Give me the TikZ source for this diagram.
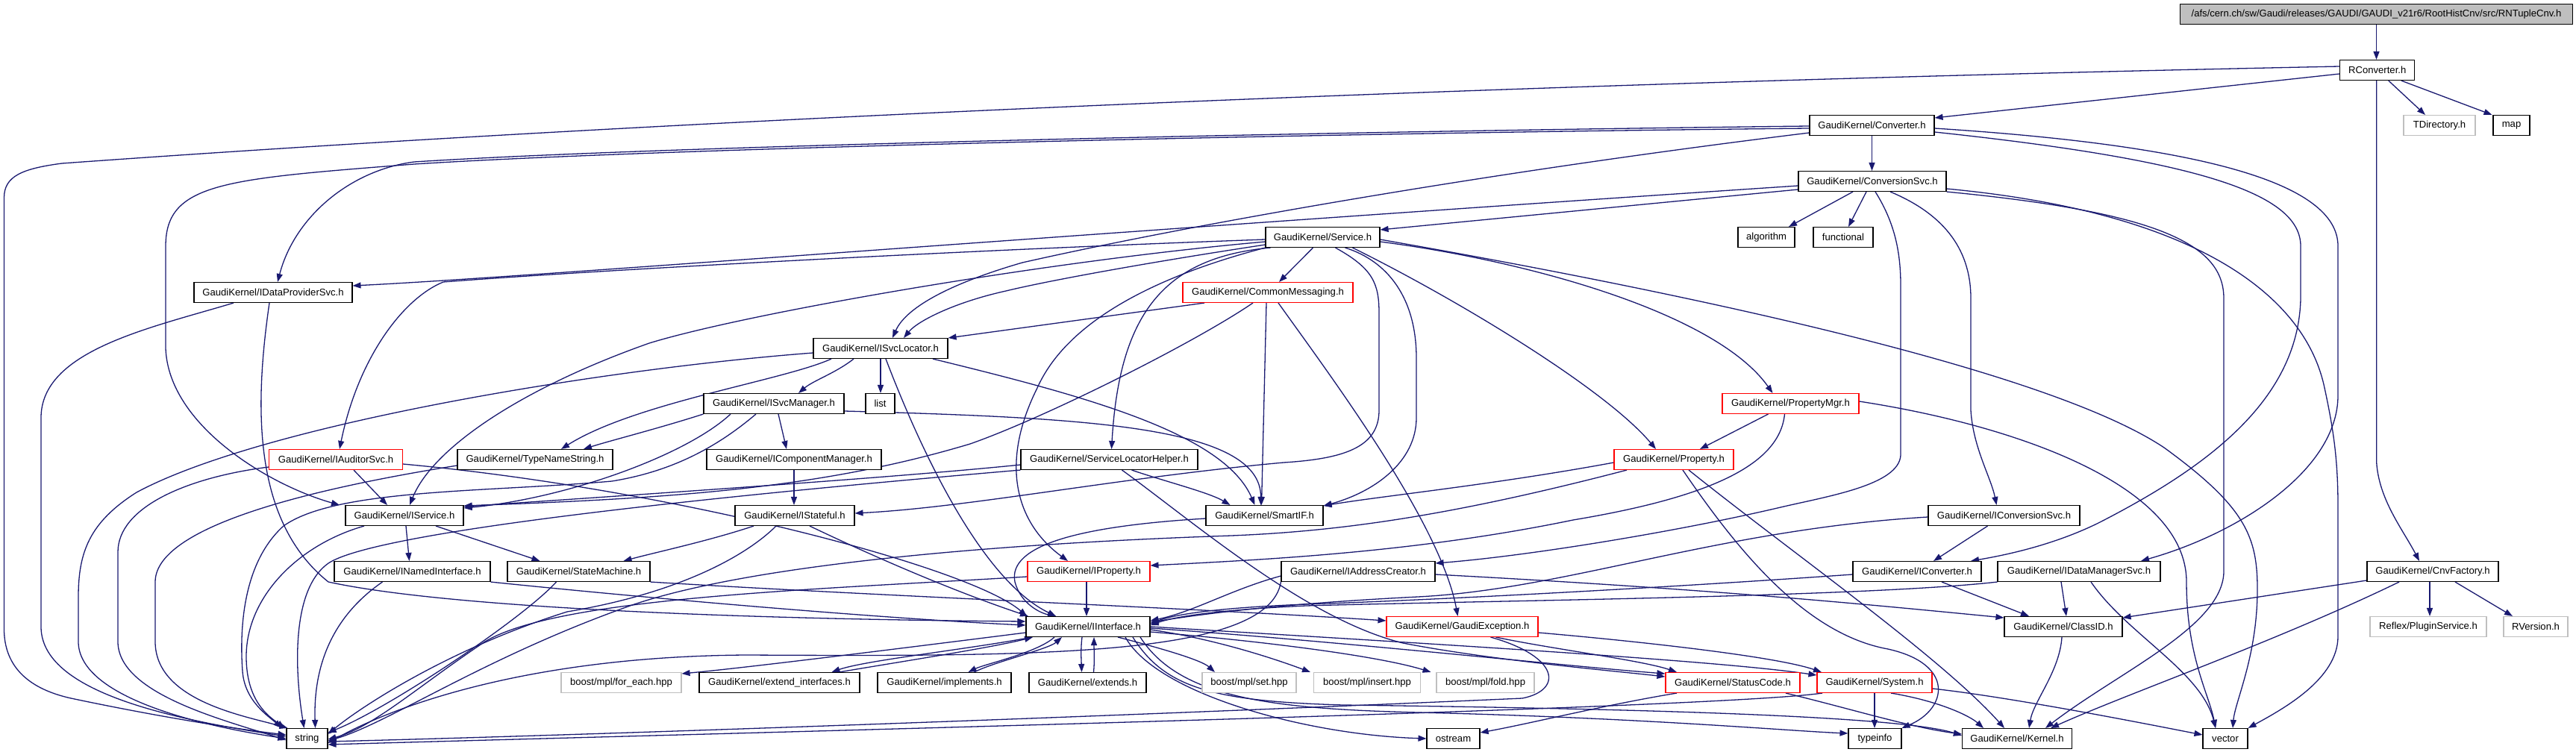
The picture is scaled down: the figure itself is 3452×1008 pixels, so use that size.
\documentclass[tikz,border=0pt]{standalone}
\usepackage{fontspec}
\setmainfont{Liberation Sans}
\usetikzlibrary{arrows.meta,backgrounds}
\definecolor{edgecol}{HTML}{191970}
\definecolor{grayb}{HTML}{BFBFBF}
\begin{document}
\begin{tikzpicture}[x=1pt,y=-1pt,
 nd/.style={draw=black,fill=white,line width=1.1pt,minimum height=27pt,inner xsep=3pt,inner ysep=0pt,font=\fontsize{13.1}{15}\selectfont},
 nr/.style={nd,draw=red},
 ng/.style={nd,draw=grayb},
 edg/.style={draw=edgecol,line width=1.3pt,-{Triangle[length=11pt,width=8pt]}}]
\useasboundingbox (0,0) rectangle (3452,1008);
% nodes
\node[nd,fill=grayb,minimum width=526pt] (rnt) at (3184.5,19) {/afs/cern.ch/sw/Gaudi/releases/GAUDI/GAUDI\_v21r6/RootHistCnv/src/RNTupleCnv.h};
\node[nd,minimum width=100pt] (rconv) at (3185.7,94) {RConverter.h};
\node[nd,minimum width=167pt] (conv) at (2508.5,168) {GaudiKernel/Converter.h};
\node[ng,minimum width=96pt] (tdir) at (3269,168) {TDirectory.h};
\node[nd,minimum width=49pt] (nmap) at (3365.5,168) {map};
\node[nd,minimum width=198pt] (convsvc) at (2509,243) {GaudiKernel/ConversionSvc.h};
\node[nd,minimum width=153pt] (service) at (1772.5,318) {GaudiKernel/Service.h};
\node[nd,minimum width=76pt] (algo) at (2367,318) {algorithm};
\node[nd,minimum width=80pt] (func) at (2470,318) {functional};
\node[nd,minimum width=212pt] (idps) at (366,392) {GaudiKernel/IDataProviderSvc.h};
\node[nr,minimum width=228pt] (cm) at (1699,392) {GaudiKernel/CommonMessaging.h};
\node[nd,minimum width=180pt] (isl) at (1180,467) {GaudiKernel/ISvcLocator.h};
\node[nr,minimum width=183pt] (pmgr) at (2399.5,541) {GaudiKernel/PropertyMgr.h};
\node[nd,minimum width=188pt] (ism) at (1037,541) {GaudiKernel/ISvcManager.h};
\node[nd,minimum width=39pt] (nlist) at (1179.5,541) {list};
\node[nr,minimum width=179pt] (ias) at (450,616) {GaudiKernel/IAuditorSvc.h};
\node[nd,minimum width=208pt] (tns) at (717,616) {GaudiKernel/TypeNameString.h};
\node[nd,minimum width=234pt] (icm) at (1064,616) {GaudiKernel/IComponentManager.h};
\node[nd,minimum width=237pt] (slh) at (1486.5,616) {GaudiKernel/ServiceLocatorHelper.h};
\node[nr,minimum width=160pt] (prop) at (2243,616) {GaudiKernel/Property.h};
\node[nd,minimum width=158pt] (isvc) at (542,691) {GaudiKernel/IService.h};
\node[nd,minimum width=160pt] (istf) at (1065,691) {GaudiKernel/IStateful.h};
\node[nd,minimum width=157pt] (sif) at (1694.5,691) {GaudiKernel/SmartIF.h};
\node[nd,minimum width=203pt] (icsvc) at (2685.5,691) {GaudiKernel/IConversionSvc.h};
\node[nd,minimum width=209pt] (ini) at (552.5,766) {GaudiKernel/INamedInterface.h};
\node[nd,minimum width=191pt] (sm) at (775.5,766) {GaudiKernel/StateMachine.h};
\node[nr,minimum width=164pt] (iprop) at (1459,766) {GaudiKernel/IProperty.h};
\node[nd,minimum width=206pt] (iac) at (1820,766) {GaudiKernel/IAddressCreator.h};
\node[nd,minimum width=172pt] (icnv) at (2569,766) {GaudiKernel/IConverter.h};
\node[nd,minimum width=218pt] (idms) at (2786,766) {GaudiKernel/IDataManagerSvc.h};
\node[nd,minimum width=176pt] (cnvf) at (3260,766) {GaudiKernel/CnvFactory.h};
\node[nd,minimum width=166pt] (ii) at (1458,840) {GaudiKernel/IInterface.h};
\node[nr,minimum width=203pt] (gex) at (1959.5,840) {GaudiKernel/GaudiException.h};
\node[nd,minimum width=158pt] (cid) at (2765,840) {GaudiKernel/ClassID.h};
\node[ng,minimum width=156pt] (plug) at (3254,840) {Reflex/PluginService.h};
\node[ng,minimum width=86pt] (rver) at (3398,840) {RVersion.h};
\node[ng,minimum width=161pt] (fe) at (832.5,915) {boost/mpl/for\_each.hpp};
\node[nd,minimum width=215pt] (ei) at (1044.5,915) {GaudiKernel/extend\_interfaces.h};
\node[nd,minimum width=179pt] (impl) at (1265.5,915) {GaudiKernel/implements.h};
\node[nd,minimum width=157pt] (ext) at (1457.5,915) {GaudiKernel/extends.h};
\node[ng,minimum width=126pt] (nset) at (1674,915) {boost/mpl/set.hpp};
\node[ng,minimum width=143pt] (ins) at (1832,915) {boost/mpl/insert.hpp};
\node[ng,minimum width=131pt] (fold) at (1990.5,915) {boost/mpl/fold.hpp};
\node[nr,minimum width=180pt] (sc) at (2322,915) {GaudiKernel/StatusCode.h};
\node[nr,minimum width=154pt] (sys) at (2512,915) {GaudiKernel/System.h};
\node[nd,minimum width=55pt] (nstr) at (411.5,990) {string};
\node[nd,minimum width=71pt] (ostr) at (1947.5,990) {ostream};
\node[nd,minimum width=71pt] (tinfo) at (2512.5,990) {typeinfo};
\node[nd,minimum width=147pt] (kern) at (2703,990) {GaudiKernel/Kernel.h};
\node[nd,minimum width=60pt] (nvec) at (2982,990) {vector};
\begin{scope}[on background layer]
% RNTupleCnv / RConverter
\draw[edg] (rnt.south) -- (rnt.south |- rconv.north);
\draw[edg] ([yshift=-5pt]rconv.west) -- ([yshift=10pt]conv.east);
\draw[edg] ([xshift=15pt]rconv.south) -- ([xshift=-19pt]tdir.north);
\draw[edg] ([xshift=32pt]rconv.south) -- ([xshift=-26pt]nmap.north);
\draw[edg] ([xshift=-1pt]rconv.south) -- (3184.7,620) .. controls (3188,670) and (3220,710) .. ([xshift=-18pt]cnvf.north);
\draw[edg] ([yshift=5pt]rconv.west) .. controls (2000,112) and (900,160) .. (83,219) .. controls (30,226) and (5.5,236) .. (5.5,265) -- (5.5,843) .. controls (5.5,895) and (40,925) .. (100,937) .. controls (200,958) and (300,975) .. ([yshift=5pt]nstr.west);
% Converter
\draw[edg] (conv.south) -- (conv.south |- convsvc.north);
\draw[edg] ([yshift=-1pt]conv.west) .. controls (1800,176) and (900,195) .. (555,217) .. controls (470,228) and (395,290) .. ([xshift=6pt]idps.north);
\draw[edg] ([yshift=-4pt]conv.west) .. controls (1800,178) and (900,198) .. (555,220) .. controls (300,240) and (222,245) .. (222,330) -- (222,467) .. controls (226,570) and (360,650) .. ([xshift=-87pt]isvc.north);
\draw[edg] ([yshift=-10pt]conv.west) .. controls (2000,230) and (1600,300) .. (1370,352) .. controls (1280,378) and (1215,410) .. ([xshift=16pt]isl.north);
\draw[edg] ([yshift=-9pt]conv.east) .. controls (2950,215) and (3083,260) .. (3083,330) -- (3083,400) .. controls (3080,540) and (2950,630) .. (2814,700) .. controls (2760,727) and (2700,742) .. ([xshift=72pt]icnv.north);
\draw[edg] ([yshift=-4pt]conv.east) .. controls (2950,195) and (3133,245) .. (3133,330) -- (3133,530) .. controls (3133,630) and (3000,715) .. ([xshift=83pt]idms.north);
% ConversionSvc
\draw[edg] ([yshift=-11pt]convsvc.west) -- ([yshift=10pt]service.east);
\draw[edg] ([yshift=-6pt]convsvc.west) .. controls (1400,316) and (700,372) .. ([yshift=9pt]idps.east);
\draw[edg] ([xshift=-26pt]convsvc.south) -- ([xshift=30pt]algo.north);
\draw[edg] ([xshift=-8pt]convsvc.south) -- ([xshift=7pt]func.north);
\draw[edg] ([xshift=4pt]convsvc.south) .. controls (2540,300) and (2547,340) .. (2547,383) -- (2547,610) .. controls (2545,650) and (2450,665) .. (2386,680) .. controls (2250,712) and (2050,745) .. ([yshift=11pt]iac.east);
\draw[edg] ([xshift=24pt]convsvc.south) .. controls (2600,285) and (2641,330) .. (2641,400) -- (2641,550) .. controls (2644,600) and (2668,640) .. ([xshift=-10pt]icsvc.north);
\draw[edg] (convsvc.south east) .. controls (2900,285) and (2980,330) .. (2980,400) -- (2980,767) .. controls (2978,840) and (2840,900) .. ([xshift=38pt]kern.north);
\draw[edg] ([yshift=-10pt]convsvc.east) .. controls (2950,285) and (3090,400) .. (3115,520) .. controls (3128,580) and (3133,620) .. (3133,680) -- (3133,853) .. controls (3133,910) and (3060,950) .. (nvec.north east);
% Service
\draw[edg] ([xshift=-13pt]service.south) -- ([xshift=15pt]cm.north);
\draw[edg] ([yshift=-10pt]service.west) .. controls (1550,350) and (1410,375) .. (1348,390) .. controls (1280,405) and (1230,430) .. ([xshift=31pt]isl.north);
\draw[edg] ([yshift=-3pt]service.west) .. controls (1300,335) and (800,362) .. (594,378) .. controls (540,400) and (480,480) .. ([xshift=5pt]ias.north);
\draw[edg] ([yshift=-6pt]service.west) .. controls (1400,350) and (1000,420) .. (870,460) .. controls (700,520) and (580,600) .. ([xshift=7pt]isvc.north);
\draw[edg] ([xshift=17pt]service.south) .. controls (1840,360) and (1848,380) .. (1848,420) -- (1848,550) .. controls (1848,600) and (1800,615) .. (1720,620) .. controls (1500,640) and (1300,680) .. ([yshift=3pt]istf.east);
\draw[edg] ([xshift=30pt]service.south) .. controls (1860,350) and (1898,400) .. (1898,480) -- (1898,560) .. controls (1898,620) and (1840,660) .. ([yshift=13pt]sif.east);
\draw[edg] ([xshift=40pt]service.south) .. controls (1950,400) and (2150,520) .. ([xshift=-24pt]prop.north);
\draw[edg] ([yshift=-6pt]service.east) .. controls (2050,350) and (2300,420) .. ([xshift=-24pt]pmgr.north);
\draw[edg] ([yshift=-3pt]service.east) .. controls (2300,400) and (2750,500) .. (2900,600) .. controls (3010,680) and (3025,720) .. (3025,790) .. controls (3025,880) and (2995,940) .. ([xshift=10pt]nvec.north);
\draw[edg] (service.south west) .. controls (1550,370) and (1430,430) .. (1390,520) .. controls (1340,620) and (1360,700) .. ([xshift=-28pt]iprop.north);
\draw[edg] ([xshift=-70pt]service.south) .. controls (1560,345) and (1500,420) .. ([xshift=3pt]slh.north);
% CommonMessaging
\draw[edg] ([xshift=-85pt]cm.south) -- ([yshift=14pt]isl.east);
\draw[edg] ([xshift=-20pt]cm.south) .. controls (1600,460) and (1400,560) .. (1300,595) .. controls (1100,655) and (900,668) .. ([yshift=13pt]isvc.east);
\draw[edg] ([xshift=-2pt]cm.south) -- ([xshift=-4pt]sif.north);
\draw[edg] ([xshift=14pt]cm.south) .. controls (1780,500) and (1930,700) .. ([xshift=-6pt]gex.north);
% IDataProviderSvc
\draw[edg] ([xshift=-53pt]idps.south) .. controls (200,440) and (55,470) .. (55,560) -- (55,840) .. controls (55,920) and (200,960) .. ([yshift=3pt]nstr.west);
\draw[edg] ([xshift=-5pt]idps.south) .. controls (340,550) and (340,700) .. (440,780) .. controls (600,815) and (1000,830) .. ([yshift=7pt]ii.west);
% ISvcLocator
\draw[edg] (isl.south) -- (isl.south |- nlist.north);
\draw[edg] ([xshift=7pt]isl.south) .. controls (1240,620) and (1320,780) .. ([xshift=-43pt]ii.north);
\draw[edg] ([xshift=70pt]isl.south) .. controls (1450,530) and (1640,580) .. ([xshift=-13pt]sif.north);
\draw[edg] ([xshift=-36pt]isl.south) .. controls (1120,500) and (1090,510) .. ([xshift=33pt]ism.north);
\draw[edg] ([xshift=-66pt]isl.south) .. controls (1050,510) and (850,540) .. ([xshift=35pt]tns.north);
\draw[edg] ([yshift=-6pt]isl.west) .. controls (800,495) and (350,570) .. (183,660) .. controls (120,700) and (105,740) .. (105,800) -- (105,860) .. controls (105,930) and (250,970) .. (nstr.west);
% PropertyMgr
\draw[edg] ([xshift=-30pt]pmgr.south) -- ([xshift=35pt]prop.north);
\draw[edg] ([xshift=-8pt]pmgr.south) .. controls (2385,620) and (2300,665) .. (2108,697) .. controls (1900,740) and (1700,750) .. ([yshift=8pt]iprop.east);
\draw[edg] ([yshift=3pt]pmgr.east) .. controls (2700,570) and (2930,650) .. (2930,780) .. controls (2930,880) and (2960,930) .. ([xshift=-13pt]nvec.north);
% ISvcManager
\draw[edg] (ism.south west) .. controls (880,575) and (820,590) .. ([xshift=65pt]tns.north);
\draw[edg] ([xshift=6pt]ism.south) -- ([xshift=-10pt]icm.north);
\draw[edg] ([yshift=-10pt]ism.east) .. controls (1450,560) and (1690,570) .. ([xshift=-5pt]sif.north);
\draw[edg] ([xshift=-58pt]ism.south) .. controls (920,610) and (760,668) .. ([yshift=10pt]isvc.east);
\draw[edg] ([xshift=-24pt]ism.south) .. controls (960,600) and (900,632) .. (820,645) .. controls (650,660) and (450,655) .. (380,705) .. controls (330,750) and (320,830) .. (325,900) .. controls (328,940) and (360,960) .. ([xshift=-34pt]nstr.north);
% IAuditorSvc
\draw[edg] ([xshift=24pt]ias.south) -- ([xshift=-23pt]isvc.north);
\draw[edg] ([yshift=-10pt]ias.west) .. controls (250,640) and (158,680) .. (158,740) -- (158,860) .. controls (158,930) and (300,965) .. ([yshift=-2pt]nstr.west);
\draw[edg] ([yshift=-6pt]ias.east) .. controls (900,655) and (1300,760) .. ([xshift=-82pt]ii.north);
% TypeNameString
\draw[edg] ([yshift=-8pt]tns.west) .. controls (450,650) and (208,700) .. (208,780) -- (208,860) .. controls (208,940) and (330,960) .. ([xshift=-26pt]nstr.north);
% IComponentManager
\draw[edg] (icm.south) -- (icm.south |- istf.north);
% ServiceLocatorHelper
\draw[edg] ([xshift=30pt]slh.south) .. controls (1560,645) and (1620,660) .. ([xshift=-46pt]sif.north);
\draw[edg] ([yshift=-7pt]slh.west) .. controls (1200,640) and (900,660) .. ([yshift=12pt]isvc.east);
\draw[edg] (slh.south west) .. controls (900,670) and (500,715) .. (440,755) .. controls (390,790) and (395,900) .. ([xshift=-4pt]nstr.north);
\draw[edg] ([xshift=17pt]slh.south) .. controls (1600,700) and (1750,830) .. (1880,862) .. controls (2000,885) and (2150,898) .. ([yshift=8pt]sc.west);
% Property
\draw[edg] ([yshift=-4pt]prop.west) .. controls (2000,650) and (1850,665) .. ([yshift=13pt]sif.east);
\draw[edg] ([xshift=-63pt]prop.south) .. controls (1950,690) and (1800,712) .. (1650,718) .. controls (1300,730) and (1000,760) .. (850,810) .. controls (650,880) and (520,970) .. ([yshift=-3pt]nstr.east);
\draw[edg] ([xshift=12pt]prop.south) .. controls (2330,740) and (2420,850) .. (2530,870) .. controls (2620,890) and (2610,950) .. (tinfo.north east);
\draw[edg] ([xshift=20pt]prop.south) .. controls (2400,740) and (2600,880) .. ([xshift=-17pt]kern.north);
% IService
\draw[edg] ([xshift=2pt]isvc.south) -- ([xshift=-4pt]ini.north);
\draw[edg] ([xshift=42pt]isvc.south) -- ([xshift=-52pt]sm.north);
\draw[edg] ([xshift=-54pt]isvc.south) .. controls (400,730) and (330,800) .. (330,880) .. controls (330,940) and (360,960) .. ([xshift=-30pt]nstr.north);
% IStateful
\draw[edg] ([xshift=-55pt]istf.south) .. controls (950,725) and (880,740) .. ([xshift=60pt]sm.north);
\draw[edg] ([xshift=-25pt]istf.south) .. controls (1000,745) and (910,795) .. (760,820) .. controls (600,870) and (480,950) .. ([yshift=6pt]nstr.east);
\draw[edg] ([xshift=20pt]istf.south) .. controls (1200,760) and (1300,800) .. ([xshift=-80pt]ii.north);
% SmartIF
\draw[edg] ([yshift=-4pt]sif.west) .. controls (1450,705) and (1350,730) .. (1360,780) .. controls (1368,810) and (1395,822) .. ([xshift=-43pt]ii.north);
% IConversionSvc
\draw[edg] ([xshift=-22pt]icsvc.south) -- ([xshift=22pt]icnv.north);
\draw[edg] ([yshift=-2pt]icsvc.west) .. controls (2300,710) and (2100,790) .. (1900,800) .. controls (1700,810) and (1600,825) .. ([yshift=6pt]ii.east);
% INamedInterface
\draw[edg] (ini.south east) .. controls (900,805) and (1200,830) .. ([yshift=2pt]ii.west);
\draw[edg] ([xshift=-40pt]ini.south) .. controls (440,830) and (420,900) .. ([xshift=11pt]nstr.north);
% StateMachine
\draw[edg] (sm.south east) .. controls (1200,800) and (1600,815) .. ([yshift=8pt]gex.west);
\draw[edg] ([xshift=-30pt]sm.south) .. controls (700,830) and (520,950) .. ([yshift=8pt]nstr.east);
% IProperty
\draw[edg] ([xshift=-3pt]iprop.south) -- ([xshift=-2pt]ii.north);
\draw[edg] ([yshift=-7pt]iprop.west) .. controls (1100,790) and (750,800) .. (650,860) .. controls (560,920) and (500,975) .. ([yshift=-1pt]nstr.east);
% IAddressCreator
\draw[edg] ([yshift=-4pt]iac.east) .. controls (2300,790) and (2500,810) .. ([yshift=12pt]cid.west);
\draw[edg] ([yshift=-6pt]iac.west) .. controls (1650,790) and (1600,820) .. ([yshift=8pt]ii.east);
\draw[edg] (iac.south west) .. controls (1700,880) and (1400,880) .. (1000,878) .. controls (700,880) and (520,950) .. ([yshift=-6pt]nstr.east);
% IConverter
\draw[edg] ([xshift=33pt]icnv.south) -- ([xshift=-46pt]cid.north);
\draw[edg] ([yshift=-4pt]icnv.west) .. controls (2200,790) and (1900,805) .. (1750,810) .. controls (1620,815) and (1570,825) .. ([yshift=4pt]ii.east);
% IDataManagerSvc
\draw[edg] ([xshift=-24pt]idms.south) -- ([xshift=4pt]cid.north);
\draw[edg] ([xshift=16pt]idms.south) .. controls (2850,850) and (2950,900) .. ([xshift=-13pt]nvec.north);
\draw[edg] (idms.south west) .. controls (2500,800) and (2000,805) .. (1750,812) .. controls (1620,818) and (1570,828) .. ([yshift=2pt]ii.east);
% CnvFactory
\draw[edg] ([yshift=-12pt]cnvf.west) -- ([yshift=12pt]cid.east);
\draw[edg] ([xshift=-45pt]cnvf.south) .. controls (3050,860) and (2850,930) .. ([xshift=45pt]kern.north);
\draw[edg] ([xshift=-4pt]cnvf.south) -- ([xshift=2pt]plug.north);
\draw[edg] ([xshift=30pt]cnvf.south) -- ([xshift=-31pt]rver.north);
% IInterface
\draw[edg] ([yshift=-8pt]ii.west) .. controls (1200,870) and (1000,895) .. ([yshift=12pt]fe.east);
\draw[edg] ([xshift=-75pt]ii.south) .. controls (1300,870) and (1160,885) .. ([xshift=70pt]ei.north);
\draw[edg] ([xshift=80pt]ei.north) .. controls (1200,888) and (1330,868) .. ([xshift=-74pt]ii.south);
\draw[edg] ([xshift=-45pt]ii.south) .. controls (1390,875) and (1320,890) .. ([xshift=32pt]impl.north);
\draw[edg] ([xshift=40pt]impl.north) .. controls (1330,888) and (1405,870) .. ([xshift=-35pt]ii.south);
\draw[edg] ([xshift=-8pt]ii.south) .. controls (1448,870) and (1449,885) .. ([xshift=-8pt]ext.north);
\draw[edg] ([xshift=8pt]ext.north) .. controls (1467,885) and (1466,870) .. ([xshift=8pt]ii.south);
\draw[edg] ([xshift=40pt]ii.south) .. controls (1560,870) and (1610,885) .. ([xshift=-46pt]nset.north);
\draw[edg] ([yshift=-4pt]ii.east) .. controls (1620,855) and (1700,880) .. ([xshift=-76pt]ins.north);
\draw[edg] ([yshift=-7pt]ii.east) .. controls (1700,860) and (1850,880) .. ([xshift=-73pt]fold.north);
\draw[edg] ([yshift=-2pt]ii.east) .. controls (1800,860) and (2100,893) .. ([yshift=12pt]sc.west);
\draw[edg] (ii.east) .. controls (1900,862) and (2300,885) .. ([yshift=10pt]sys.west);
\draw[edg] ([xshift=60pt]ii.south) .. controls (1560,920) and (1620,940) .. (1800,945) .. controls (2200,950) and (2550,960) .. ([yshift=4pt]kern.west);
\draw[edg] ([xshift=50pt]ii.south) .. controls (1550,930) and (1750,985) .. (ostr.west);
\draw[edg] ([xshift=70pt]ii.south) .. controls (1580,935) and (1700,950) .. (1900,955) .. controls (2200,962) and (2400,980) .. ([yshift=7pt]tinfo.west);
% GaudiException
\draw[edg] ([xshift=45pt]gex.south) .. controls (2080,870) and (2200,885) .. ([xshift=-75pt]sc.north);
\draw[edg] ([yshift=-8pt]gex.east) .. controls (2200,860) and (2380,880) .. ([xshift=-71pt]sys.north);
\draw[edg] ([xshift=38pt]gex.south) .. controls (2090,880) and (2095,925) .. (2040,936) .. controls (1500,960) and (800,985) .. ([yshift=-4pt]nstr.east);
% StatusCode
\draw[edg] ([xshift=-75pt]sc.south) .. controls (2150,945) and (2050,970) .. ([yshift=8pt]ostr.east);
\draw[edg] ([xshift=71pt]sc.south) .. controls (2480,950) and (2560,975) .. ([yshift=6pt]kern.west);
% System
\draw[edg] (sys.south) -- (sys.south |- tinfo.north);
\draw[edg] ([xshift=22pt]sys.south) .. controls (2600,940) and (2640,960) .. ([xshift=-45pt]kern.north);
\draw[edg] ([yshift=-8pt]sys.east) .. controls (2700,935) and (2900,975) .. ([yshift=5pt]nvec.west);
\draw[edg] ([xshift=-70pt]sys.south) .. controls (2300,950) and (1000,982) .. ([yshift=-8pt]nstr.east);
% ClassID
\draw[edg] ([xshift=-2pt]cid.south) .. controls (2760,900) and (2725,940) .. ([xshift=16pt]kern.north);
\end{scope}
\end{tikzpicture}
\end{document}
